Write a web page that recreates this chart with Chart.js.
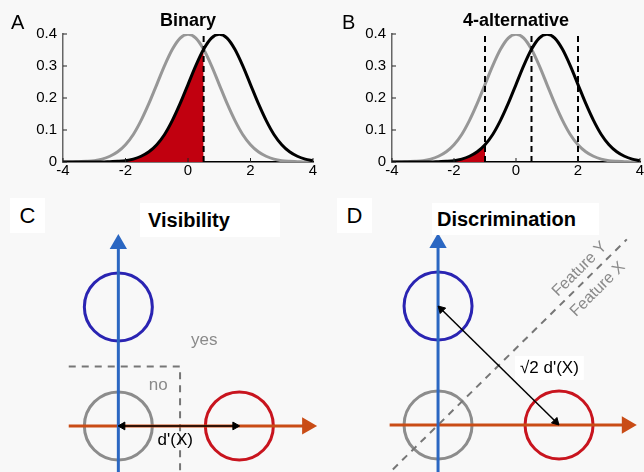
<!DOCTYPE html>
<html>
<head>
<meta charset="utf-8">
<script src="https://cdn.jsdelivr.net/npm/chart.js@4.4.1/dist/chart.umd.min.js"></script>
<style>
  html, body { margin: 0; padding: 0; width: 644px; height: 472px; overflow: hidden; background: #f8f8f8; }
  body { position: relative; font-family: "Liberation Sans", Arial, sans-serif; }
  .panel { position: absolute; }
  .letter { position: absolute; color: #000; line-height: 1; }
  .boxed { background: #fff; display: flex; align-items: center; justify-content: center; }
  .ttl { position: absolute; font-weight: bold; font-size: 20px; background: #fff; color: #000; white-space: nowrap; }
</style>
</head>
<body>
<div class="panel" style="left:0;top:0;width:322px;height:190px"><canvas id="chartA"></canvas></div>
<div class="panel" style="left:322px;top:0;width:340px;height:190px"><canvas id="chartB"></canvas></div>
<div class="panel" style="left:0;top:190px;width:322px;height:282px"><canvas id="chartC"></canvas></div>
<div class="panel" style="left:322px;top:190px;width:322px;height:282px"><canvas id="chartD"></canvas></div>

<div class="letter" style="left:11px;top:12px;font-size:20px">A</div>
<div class="letter" style="left:342px;top:12px;font-size:20px">B</div>
<div class="letter boxed" style="left:10px;top:198px;width:35px;height:35px;font-size:22px">C</div>
<div class="letter boxed" style="left:337px;top:198px;width:35px;height:35px;font-size:22px">D</div>
<div class="ttl" style="left:140px;top:203px;width:132px;height:34px;line-height:34px;padding-left:8px">Visibility</div>
<div class="ttl" style="left:432px;top:203px;width:162px;height:32px;line-height:32px;padding-left:5px">Discrimination</div>

<script>
// --- panels A/B: decision variable densities ---
const xValues = [-4, -3.75, -3.5, -3.25, -3, -2.75, -2.5, -2.25, -2, -1.75, -1.5, -1.25, -1, -0.75, -0.5, -0.25,
  0, 0.25, 0.5, 0.75, 1, 1.25, 1.5, 1.75, 2, 2.25, 2.5, 2.75, 3, 3.25, 3.5, 3.75, 4];
// grey curve (no stimulus)
const noiseDensity = [0, 0, 0.001, 0.002, 0.004, 0.009, 0.018, 0.032, 0.054, 0.086, 0.130, 0.183, 0.242, 0.301, 0.352, 0.387,
  0.399, 0.387, 0.352, 0.301, 0.242, 0.183, 0.130, 0.086, 0.054, 0.032, 0.018, 0.009, 0.004, 0.002, 0.001, 0, 0];
// black curve (stimulus present)
const signalDensity = [0, 0, 0, 0, 0, 0, 0.001, 0.002, 0.004, 0.009, 0.018, 0.032, 0.054, 0.086, 0.130, 0.183,
  0.242, 0.301, 0.352, 0.387, 0.399, 0.387, 0.352, 0.301, 0.242, 0.183, 0.130, 0.086, 0.054, 0.032, 0.018, 0.009, 0.004];
const binaryCriteria = [0.5];
const fourAltCriteria = [-1, 0.5, 2];
const binaryMissLimit = 0.5;
const fourAltMissLimit = -1;
const xTickStep = 2;
const yTickStep = 0.1;

// --- panels C/D: stimulus space ---
const stimulusX = [0, 0, 1];   // blue (feature Y), grey (blank), red (feature X)
const stimulusY = [1, 0, 0];
const stimulusColors = ["#2a24b2", "#8c8c8c", "#c8141e"];
const visibilityCriterion = 0.5;

Chart.defaults.font.family = '"Liberation Sans", Arial, sans-serif';

const innerTicks = {
  id: "innerTicks",
  afterDraw(chart) {
    const { ctx, scales: { x, y }, chartArea: a } = chart;
    ctx.save();
    ctx.strokeStyle = "#222";
    ctx.lineWidth = 1;
    ctx.beginPath();
    x.ticks.forEach(t => {
      const px = x.getPixelForValue(t.value);
      ctx.moveTo(px, a.bottom); ctx.lineTo(px, a.bottom - 4);
    });
    y.ticks.forEach(t => {
      const py = y.getPixelForValue(t.value);
      ctx.moveTo(a.left, py); ctx.lineTo(a.left + 4, py);
    });
    ctx.stroke();
    ctx.restore();
  }
};

const notes = {
  id: "notes",
  afterDatasetsDraw(chart, args, opts) {
    const { ctx, scales: { x, y } } = chart;
    (opts.items || []).forEach(n => {
      ctx.save();
      ctx.translate(x.getPixelForValue(n.x), y.getPixelForValue(n.y));
      ctx.rotate((n.rotate || 0) * Math.PI / 180);
      ctx.font = (n.size || 16) + 'px "Liberation Sans", Arial, sans-serif';
      ctx.textAlign = "center";
      ctx.textBaseline = "middle";
      if (n.box) {
        const w = ctx.measureText(n.text).width;
        ctx.fillStyle = "#fff";
        ctx.fillRect(-w / 2 - 5, -12, w + 10, 24);
      }
      ctx.fillStyle = n.color;
      ctx.fillText(n.text, 0, 0);
      ctx.restore();
    });
  }
};

function densityChart(id, title, criteria, missLimit, padLeft, padRight) {
  const pts = ys => xValues.map((x, i) => ({ x, y: ys[i] }));
  const miss = pts(signalDensity).filter(p => p.x <= missLimit);
  const curve = { pointRadius: 0, borderWidth: 3, cubicInterpolationMode: "monotone", fill: false };
  const datasets = [
    ...criteria.map(c => ({
      data: [{ x: c, y: 0 }, { x: c, y: 0.4 }],
      borderColor: "#000", borderWidth: 2, borderDash: [6, 4], pointRadius: 0, fill: false
    })),
    { ...curve, data: pts(signalDensity), borderColor: "#000" },
    { ...curve, data: pts(noiseDensity), borderColor: "#979797" },
    { ...curve, data: miss, borderWidth: 1, borderColor: "rgba(0,0,0,0)", backgroundColor: "#c1000f", fill: "origin" }
  ];
  return new Chart(document.getElementById(id), {
    type: "line",
    data: { datasets },
    plugins: [innerTicks],
    options: {
      responsive: true, maintainAspectRatio: false, animation: false, events: [],
      layout: { autoPadding: false, padding: { left: padLeft, right: padRight, top: 0, bottom: 0 } },
      plugins: {
        legend: { display: false }, tooltip: { enabled: false },
        title: {
          display: true, text: title, fullSize: false, color: "#000",
          font: { size: 18, weight: "bold" }, padding: { top: 10, bottom: 2.4 }
        }
      },
      scales: {
        x: {
          type: "linear", min: -4, max: 4,
          grid: { display: false, drawTicks: false },
          border: { color: "#000", width: 1.5 },
          ticks: { stepSize: xTickStep, padding: 0, color: "#000", font: { size: 15 } },
          afterFit: s => { s.height = 28; }
        },
        y: {
          min: 0, max: 0.4,
          grid: { display: false, drawTicks: false },
          border: { color: "#666", width: 1.5 },
          ticks: { stepSize: yTickStep, padding: 6, color: "#000", font: { size: 15 } },
          afterFit: s => { s.width = 48; }
        }
      }
    }
  });
}

densityChart("chartA", "Binary", binaryCriteria, binaryMissLimit, 15, 9);
densityChart("chartB", "4-alternative", fourAltCriteria, fourAltMissLimit, 22, 22);

function spaceChart(id, range, criterionLine, arrow, noteItems) {
  const circles = {
    data: stimulusX.map((x, i) => ({ x, y: stimulusY[i] })),
    showLine: false, pointStyle: "circle", pointRadius: 34,
    pointBorderWidth: 3, pointBorderColor: stimulusColors, pointBackgroundColor: "rgba(0,0,0,0)"
  };
  const datasets = [
    { data: arrow.pts, showLine: true, borderColor: "#000", borderWidth: 1.5,
      pointStyle: "triangle", pointRadius: 4.5, pointRotation: arrow.rot,
      pointBackgroundColor: "#000", pointBorderColor: "#000", pointBorderWidth: 1 },
    { data: [{ x: 0, y: range.y[0] - 0.1 }, { x: 0, y: 1.53 }], showLine: true,
      borderColor: "#2b67c2", borderWidth: 3, pointStyle: "triangle", pointRadius: [0, 7],
      pointRotation: 0, pointBackgroundColor: "#2b67c2", pointBorderColor: "#2b67c2" },
    { data: [{ x: range.hx, y: 0 }, { x: 1.56, y: 0 }], showLine: true,
      borderColor: "#c94c16", borderWidth: 3, pointStyle: "triangle", pointRadius: [0, 7],
      pointRotation: 90, pointBackgroundColor: "#c94c16", pointBorderColor: "#c94c16" },
    { data: criterionLine, showLine: true, borderColor: "#767676", borderWidth: 2,
      borderDash: [7, 6], pointRadius: 0 },
    circles
  ];
  return new Chart(document.getElementById(id), {
    type: "scatter",
    data: { datasets },
    plugins: [notes],
    options: {
      responsive: true, maintainAspectRatio: false, animation: false, events: [],
      layout: { autoPadding: false, padding: 0 },
      plugins: { legend: { display: false }, tooltip: { enabled: false }, notes: { items: noteItems } },
      scales: {
        x: { type: "linear", display: false, min: range.x[0], max: range.x[1] },
        y: { type: "linear", display: false, min: range.y[0], max: range.y[1] }
      }
    }
  });
}

spaceChart("chartC",
  { x: [-0.978, 1.683], y: [-0.387, 1.983], hx: -0.41 },
  [{ x: -0.41, y: visibilityCriterion }, { x: 0.51, y: visibilityCriterion }, { x: 0.51, y: -0.5 }],
  { pts: [{ x: 0.035, y: 0 }, { x: 0.965, y: 0 }], rot: [270, 90] },
  [
    { text: "yes", x: 0.71, y: 0.72, color: "#8a8a8a", size: 17 },
    { text: "no", x: 0.33, y: 0.34, color: "#8a8a8a", size: 17 },
    { text: "d'(X)", x: 0.47, y: -0.12, color: "#000", size: 17 }
  ]);

spaceChart("chartD",
  { x: [-0.959, 1.702], y: [-0.395, 1.975], hx: -0.40 },
  [{ x: -0.45, y: -0.45 }, { x: 1.56, y: 1.56 }],
  { pts: [{ x: 0.027, y: 0.973 }, { x: 0.973, y: 0.027 }], rot: [315, 135] },
  [
    { text: "\u221A2 d'(X)", x: 0.92, y: 0.48, color: "#000", box: true, size: 17 },
    { text: "Feature Y", x: 1.17, y: 1.31, color: "#8a8a8a", rotate: -45, size: 16 },
    { text: "Feature X", x: 1.32, y: 1.14, color: "#8a8a8a", rotate: -45, size: 16 }
  ]);
</script>
</body>
</html>
